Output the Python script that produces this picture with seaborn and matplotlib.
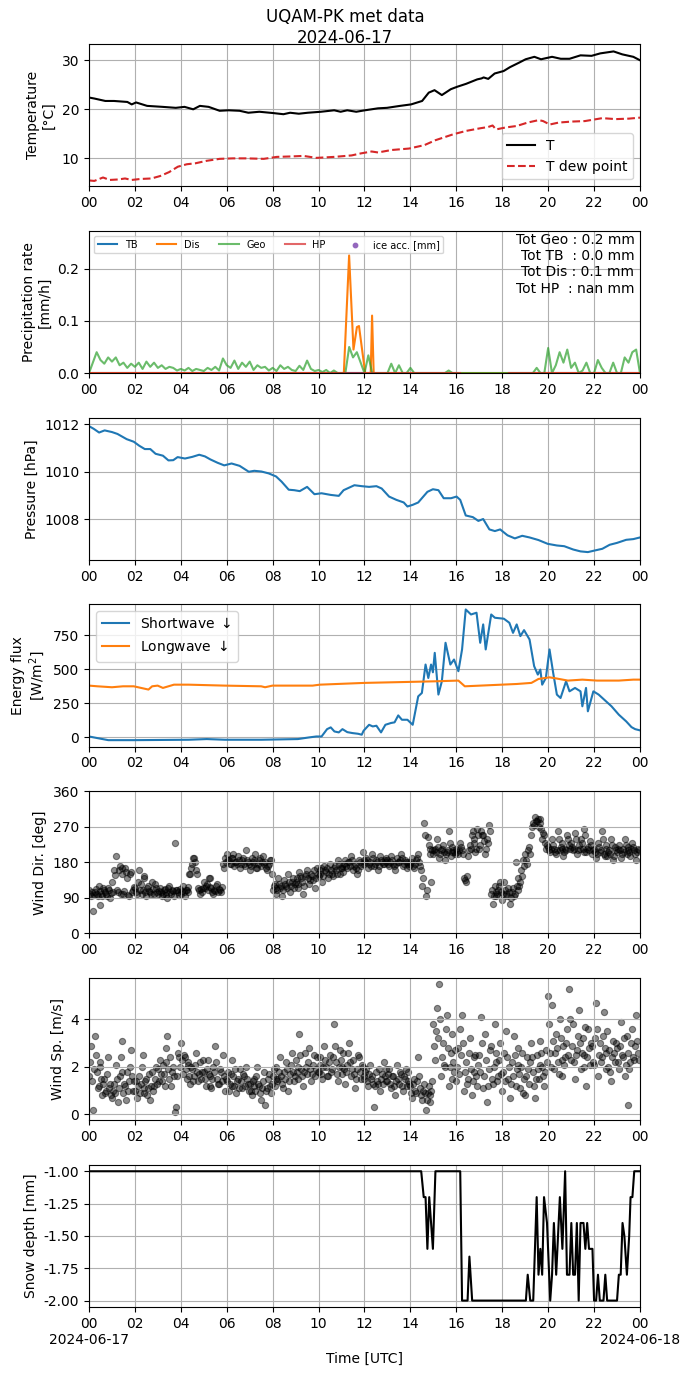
import numpy as np
import pandas as pd
import matplotlib
matplotlib.use("Agg")
import matplotlib.pyplot as plt
import seaborn as sns

# ---------------- data ----------------
hour_labels = ["00", "02", "04", "06", "08", "10", "12", "14", "16", "18", "20", "22", "00"]
date_start = "2024-06-17"
date_end = "2024-06-18"

# Temperature
t_time = [0, 0.23, 0.71, 1.09, 1.67, 1.86, 2.05, 2.53, 3.2, 3.78, 4.16, 4.54, 4.83, 5.21, 5.69,
          6.08, 6.56, 6.94, 7.42, 7.99, 8.47, 8.76, 9.14, 9.53, 10.1, 10.68, 10.96, 11.25, 11.64,
          12.02, 12.59, 12.98, 13.55, 14.03, 14.51, 14.8, 15.05, 15.37, 15.76, 16.04, 16.43, 16.91,
          17.1, 17.19, 17.39, 17.67, 18.06, 18.34, 18.73, 19.02, 19.4, 19.69, 19.88, 20.17, 20.55,
          20.93, 21.41, 21.89, 22.27, 22.85, 23.23, 23.71, 24.0]
t_air = [22.4, 22.2, 21.7, 21.7, 21.5, 21.0, 21.4, 20.7, 20.5, 20.3, 20.5, 20.0, 20.7, 20.5, 19.7,
         19.8, 19.7, 19.3, 19.5, 19.25, 19.0, 19.3, 19.1, 19.3, 19.5, 19.8, 19.5, 19.8, 19.5,
         19.8, 20.2, 20.3, 20.7, 21.0, 21.7, 23.4, 23.9, 22.9, 24.1, 24.6, 25.2, 26.1,
         26.3, 26.5, 26.2, 27.3, 27.8, 28.6, 29.5, 30.2, 30.7, 30.2, 30.4, 30.7, 30.3,
         30.3, 31.0, 30.9, 31.4, 31.8, 31.2, 30.7, 30.0]
td_time = [0, 0.23, 0.61, 0.9, 1.28, 1.57, 1.86, 2.24, 2.72, 3.1, 3.49, 3.87, 4.26, 4.64, 5.12,
           5.69, 6.27, 6.84, 7.61, 8.18, 8.86, 9.34, 9.91, 10.68, 11.44, 11.83, 12.31, 12.59,
           13.17, 13.94, 14.61, 15.09, 15.86, 16.43, 17.0, 17.39, 17.58, 17.73, 18.15, 18.63,
           19.11, 19.59, 19.78, 20.07, 20.46, 21.03, 21.6, 22.36, 22.94, 23.52, 24.0]
t_dew = [5.5, 5.4, 6.1, 5.6, 5.7, 5.9, 5.6, 5.8, 5.9, 6.4, 7.2, 8.3, 8.8, 9.0, 9.5,
         9.9, 10.0, 10.0, 9.9, 10.3, 10.4, 10.5, 10.1, 10.3, 10.6, 11.0, 11.4, 11.2,
         11.7, 12.0, 12.7, 13.7, 14.9, 15.6, 16.1, 16.4, 16.7, 15.9, 16.3, 16.6,
         17.3, 17.8, 17.6, 16.9, 17.3, 17.5, 17.6, 18.2, 18.0, 18.1, 18.3]

# Precipitation (10-minute samples for Geo)
geo_rate = [
    0.000, 0.020, 0.040, 0.025, 0.018, 0.030,
    0.022, 0.030, 0.015, 0.020, 0.010, 0.018,
    0.012, 0.020, 0.008, 0.022, 0.012, 0.020,
    0.010, 0.015, 0.008, 0.012, 0.010, 0.005,
    0.008, 0.005, 0.010, 0.004, 0.008, 0.006,
    0.004, 0.010, 0.006, 0.012, 0.005, 0.028,
    0.015, 0.010, 0.024, 0.008, 0.020, 0.012,
    0.022, 0.006, 0.015, 0.010, 0.012, 0.005,
    0.010, 0.004, 0.015, 0.008, 0.012, 0.006,
    0.004, 0.014, 0.006, 0.024, 0.008, 0.004,
    0.006, 0.002, 0.006, 0.000, 0.005, 0.000,
    0.000, 0.000, 0.050, 0.030, 0.040, 0.020,
    0.000, 0.034, 0.000, 0.000, 0.000, 0.000,
    0.000, 0.018, 0.000, 0.015, 0.000, 0.000,
    0.010, 0.000, 0.000, 0.000, 0.000, 0.000,
    0.000, 0.000, 0.000, 0.000, 0.005, 0.000,
    0.000, 0.000, 0.000, 0.000, 0.000, 0.000,
    0.000, 0.000, 0.000, 0.000, 0.000, 0.000,
    0.000, 0.000, 0.000, 0.000, 0.000, 0.000,
    0.000, 0.000, 0.000, 0.010, 0.000, 0.000,
    0.048, 0.000, 0.015, 0.040, 0.020, 0.045,
    0.010, 0.020, 0.000, 0.005, 0.020, 0.000,
    0.000, 0.025, 0.010, 0.000, 0.000, 0.020,
    0.000, 0.000, 0.030, 0.020, 0.040, 0.045,
    0.000]
geo_time = [i / 6 for i in range(len(geo_rate))]
dis_time = [0, 11.1, 11.33, 11.52, 11.67, 11.76, 12.03, 12.27, 12.33, 12.4, 24]
dis_rate = [0, 0, 0.225, 0.045, 0.088, 0.09, 0.0, 0.0, 0.11, 0.0, 0]
tb_time = [0, 24]
tb_rate = [0, 0]
hp_segments_time = [[0, 16.17], [18.3, 24]]
hp_segments_rate = [[0, 0], [0, 0]]
precip_text = ["Tot Geo : 0.2 mm", "Tot TB  : 0.0 mm", "Tot Dis : 0.1 mm", "Tot HP  : nan mm"]

# Pressure
p_time = [0, 0.2, 0.44, 0.68, 1.0, 1.24, 1.64, 1.95, 2.19, 2.43, 2.67, 2.9, 3.22, 3.46, 3.67,
          3.86, 4.18, 4.5, 4.8, 5.05, 5.29, 5.6, 5.89, 6.21, 6.56, 6.96, 7.2, 7.51, 7.83, 8.15,
          8.39, 8.7, 8.94, 9.18, 9.5, 9.82, 10.13, 10.53, 10.88, 11.09, 11.56, 11.88, 12.2,
          12.52, 12.75, 13.07, 13.39, 13.71, 13.87, 14.1, 14.34, 14.5, 14.74, 14.98, 15.22,
          15.45, 15.77, 16.01, 16.17, 16.41, 16.72, 16.96, 17.17, 17.44, 17.68, 17.91, 18.23,
          18.55, 18.87, 19.19, 19.58, 19.98, 20.38, 20.7, 21.09, 21.41, 21.73, 22.04, 22.36,
          22.68, 23.0, 23.4, 23.71, 24.0]
pressure = [1011.93, 1011.82, 1011.66, 1011.75, 1011.68, 1011.6, 1011.38, 1011.27, 1011.1,
            1010.96, 1010.96, 1010.76, 1010.68, 1010.48, 1010.49, 1010.62, 1010.56, 1010.63,
            1010.72, 1010.65, 1010.52, 1010.38, 1010.27, 1010.35, 1010.25, 1010.0, 1010.04,
            1010.01, 1009.93, 1009.8, 1009.58, 1009.24, 1009.22, 1009.18, 1009.36, 1009.05,
            1009.09, 1009.02, 1008.98, 1009.22, 1009.43, 1009.39, 1009.36, 1009.39, 1009.29,
            1008.95, 1008.81, 1008.7, 1008.53, 1008.6, 1008.7, 1008.88, 1009.15, 1009.26,
            1009.22, 1008.88, 1008.88, 1008.95, 1008.81, 1008.15, 1008.08, 1007.92, 1008.0,
            1007.56, 1007.49, 1007.56, 1007.31, 1007.18, 1007.29, 1007.22, 1007.11, 1006.95,
            1006.88, 1006.85, 1006.71, 1006.63, 1006.6, 1006.67, 1006.74, 1006.91, 1006.99,
            1007.12, 1007.15, 1007.22]

# Radiation
sw_time = [0, 0.37, 0.84, 1.95, 4.34, 5.13, 5.92, 7.5, 9.1, 9.58, 9.9, 10.13, 10.37, 10.53,
           10.69, 10.88, 11.04, 11.25, 11.48, 11.72, 11.88, 11.96, 12.2, 12.36, 12.52, 12.72,
           12.91, 13.15, 13.31, 13.47, 13.63, 13.87, 14.1, 14.34, 14.5, 14.66, 14.78, 14.9,
           14.98, 15.06, 15.22, 15.37, 15.53, 15.74, 15.9, 16.09, 16.25, 16.41, 16.64, 16.88,
           17.04, 17.17, 17.28, 17.52, 17.68, 18.07, 18.31, 18.47, 18.63, 18.79, 18.95, 19.19,
           19.39, 19.55, 19.66, 19.74, 19.9, 20.06, 20.22, 20.38, 20.54, 20.78, 20.93, 21.17,
           21.41, 21.49, 21.65, 21.73, 21.97, 22.2, 22.44, 22.76, 23.08, 23.4, 23.63, 23.79, 24.0]
shortwave = [7, -5, -20, -20, -17, -12, -17, -17, -12, 0, 7, 7, 61, 74,
             44, 37, 61, 39, 32, 27, 20, 49, 93, 81, 86, 37,
             93, 106, 111, 162, 130, 130, 93, 302, 327, 536, 437, 536,
             479, 622, 315, 413, 696, 536, 573, 487, 647, 941, 904, 917,
             696, 831, 647, 904, 880, 873, 843, 769, 831, 745, 789, 720,
             524, 462, 499, 388, 437, 647, 474, 315, 290, 413, 339, 364,
             339, 229, 364, 192, 339, 315, 278, 229, 167, 118, 76, 61, 52]
lw_time = [0, 0.37, 1.0, 1.48, 1.95, 2.27, 2.59, 2.75, 2.99, 3.22, 3.7, 4.34, 5.92, 7.5, 7.67,
           7.99, 9.74, 10.05, 12.0, 13.87, 15.14, 16.09, 16.37, 17.04, 18.63, 19.27, 19.58,
           20.06, 20.38, 20.86, 21.49, 22.13, 23.08, 23.71, 24.0]
longwave = [381, 376, 369, 376, 376, 364, 352, 376, 381, 364, 388, 388, 381, 376, 369,
            381, 381, 388, 401, 408, 413, 418, 376, 381, 393, 401, 430,
            442, 433, 418, 425, 418, 418, 425, 425]

# Wind, one row per hour (2.5-minute samples)
wind_dir_rows = [
    [110, 100, 95, 105, 58, 98, 105, 112, 100, 95, 120, 108, 72, 100, 95, 115, 110, 105, 100, 96, 115, 110, 90, 102],
    [130, 105, 160, 148, 195, 110, 105, 160, 170, 100, 150, 165, 100, 108, 165, 155, 140, 98, 95, 150, 155, 105, 110, 118],
    [115, 105, 100, 130, 160, 110, 125, 100, 110, 145, 140, 105, 95, 115, 120, 108, 105, 100, 130, 112, 100, 125, 115, 105],
    [100, 108, 115, 105, 95, 100, 110, 112, 105, 98, 90, 115, 120, 105, 100, 110, 108, 95, 228, 110, 110, 105, 98, 112],
    [100, 108, 120, 105, 95, 110, 110, 118, 105, 150, 150, 165, 175, 190, 190, 180, 160, 150, 115, 110, 100, 112, 105, 115],
    [130, 115, 120, 125, 110, 140, 140, 118, 115, 105, 100, 110, 108, 120, 125, 105, 112, 110, 105, 118, 175, 165, 190, 180],
    [200, 185, 185, 175, 175, 190, 190, 200, 170, 180, 180, 175, 195, 185, 165, 175, 185, 190, 175, 170, 210, 185, 180, 175],
    [160, 170, 190, 180, 175, 185, 200, 165, 165, 175, 185, 190, 170, 180, 195, 175, 180, 165, 160, 170, 175, 185, 185, 150],
    [110, 120, 125, 115, 100, 110, 140, 125, 115, 120, 95, 110, 135, 125, 120, 115, 150, 130, 105, 120, 130, 140, 115, 125],
    [130, 140, 115, 125, 155, 145, 140, 130, 100, 120, 145, 150, 160, 140, 125, 135, 150, 145, 135, 160, 115, 140, 165, 150],
    [145, 150, 160, 165, 130, 145, 170, 160, 155, 165, 140, 150, 175, 160, 150, 145, 165, 170, 160, 150, 185, 175, 150, 165],
    [170, 165, 155, 175, 185, 170, 165, 180, 180, 170, 195, 185, 160, 170, 175, 165, 150, 160, 185, 180, 170, 175, 205, 185],
    [175, 180, 190, 185, 165, 175, 180, 170, 200, 190, 170, 175, 185, 180, 160, 170, 195, 185, 180, 175, 175, 185, 190, 180],
    [185, 175, 170, 180, 195, 185, 175, 170, 160, 175, 190, 180, 180, 185, 200, 190, 170, 175, 185, 180, 165, 175, 180, 170],
    [175, 180, 190, 170, 165, 175, 185, 190, 200, 180, 170, 160, 120, 140, 280, 250, 95, 110, 245, 225, 215, 200, 130, 210],
    [200, 210, 215, 205, 240, 220, 190, 200, 210, 215, 225, 205, 185, 200, 205, 210, 260, 230, 195, 205, 220, 210, 205, 200],
    [215, 205, 200, 210, 230, 220, 210, 200, 140, 135, 130, 145, 195, 210, 225, 215, 250, 260, 240, 230, 205, 215, 265, 250],
    [215, 225, 260, 250, 250, 235, 200, 215, 240, 230, 275, 260, 100, 110, 75, 95, 120, 105, 95, 100, 110, 120, 130, 105],
    [85, 100, 130, 110, 100, 95, 115, 105, 75, 90, 105, 115, 95, 100, 180, 120, 140, 110, 120, 130, 160, 145, 185, 170],
    [200, 185, 175, 210, 220, 200, 250, 270, 280, 275, 295, 285, 285, 290, 270, 280, 290, 265, 240, 255, 250, 230, 215, 225],
    [220, 210, 205, 215, 240, 225, 215, 205, 200, 210, 260, 240, 210, 220, 230, 215, 195, 205, 215, 210, 250, 240, 225, 215],
    [230, 220, 210, 215, 255, 240, 200, 210, 225, 215, 240, 230, 215, 205, 265, 250, 205, 215, 220, 210, 235, 225, 200, 210],
    [215, 205, 190, 200, 230, 220, 205, 210, 260, 240, 200, 195, 225, 215, 195, 205, 210, 200, 240, 225, 185, 195, 220, 210],
    [205, 215, 225, 210, 190, 200, 215, 205, 240, 225, 200, 210, 220, 205, 195, 215, 230, 220, 210, 200, 185, 205, 215, 210],
]
wind_speed_rows = [
    [1.6, 2.2, 2.9, 1.4, 0.2, 1.9, 3.3, 2.5, 1.8, 1.1, 1.2, 2.0, 2.2, 1.5, 0.8, 1.3, 1.5, 0.9, 1.0, 1.7, 2.4, 1.1, 1.3, 0.8],
    [0.7, 1.0, 1.3, 0.9, 2.1, 1.5, 0.5, 1.1, 1.6, 2.4, 3.1, 1.8, 0.9, 1.3, 1.2, 0.6, 1.8, 1.0, 1.4, 2.0, 2.7, 1.6, 1.0, 1.4],
    [1.0, 1.4, 0.7, 1.2, 1.6, 0.9, 1.3, 2.0, 2.5, 1.1, 0.9, 1.4, 1.5, 0.8, 1.1, 1.7, 0.6, 1.2, 1.8, 1.0, 1.2, 1.5, 2.0, 1.3],
    [1.9, 1.4, 2.3, 1.7, 1.4, 2.1, 1.7, 1.2, 2.8, 2.2, 3.3, 1.9, 1.5, 2.4, 1.2, 1.8, 2.0, 1.6, 0.1, 0.3, 1.6, 2.6, 2.4, 2.0],
    [3.0, 2.3, 1.7, 2.5, 2.4, 1.9, 1.5, 2.2, 2.1, 1.6, 1.3, 2.0, 1.9, 1.4, 1.6, 2.1, 2.6, 1.8, 1.4, 1.7, 2.2, 1.5, 1.8, 2.3],
    [1.8, 1.5, 1.2, 1.9, 2.3, 1.7, 1.6, 1.2, 1.1, 1.5, 2.0, 1.8, 2.9, 2.2, 1.5, 1.3, 1.3, 1.9, 1.8, 1.4, 2.5, 1.6, 1.0, 1.5],
    [1.4, 1.8, 1.0, 1.3, 1.7, 1.2, 2.3, 1.6, 1.2, 1.9, 0.9, 1.4, 1.5, 1.1, 1.9, 1.4, 1.1, 1.7, 1.6, 1.2, 2.0, 1.5, 1.3, 1.0],
    [1.3, 1.0, 0.8, 1.4, 1.5, 1.2, 1.0, 1.6, 2.0, 1.3, 1.2, 0.9, 0.6, 1.1, 1.4, 1.8, 0.4, 1.0, 1.1, 1.5, 1.7, 1.2, 0.9, 1.3],
    [1.6, 1.9, 1.2, 1.5, 2.0, 1.4, 1.5, 1.8, 2.4, 1.6, 1.3, 1.1, 1.8, 1.5, 2.2, 1.9, 1.0, 1.4, 1.7, 2.1, 2.6, 1.8, 1.4, 1.6],
    [2.3, 1.8, 1.5, 2.0, 3.4, 2.5, 1.9, 1.6, 1.2, 1.8, 2.6, 2.0, 1.7, 2.2, 2.8, 1.9, 1.4, 1.7, 2.1, 2.5, 1.6, 1.9, 2.4, 1.8],
    [1.8, 2.1, 2.4, 1.7, 1.5, 2.0, 2.9, 2.3, 2.0, 1.6, 1.6, 2.2, 2.5, 1.8, 1.9, 2.4, 3.8, 2.9, 2.2, 1.7, 1.4, 2.0, 2.7, 2.3],
    [1.7, 2.0, 2.6, 1.9, 1.3, 1.8, 2.1, 2.6, 3.0, 2.2, 1.6, 1.9, 2.3, 1.7, 1.1, 1.5, 1.9, 2.5, 2.4, 1.8, 1.5, 2.1, 2.0, 1.6],
    [1.5, 1.8, 1.9, 1.4, 1.2, 1.7, 2.1, 1.5, 1.6, 1.3, 0.3, 1.2, 1.8, 1.4, 1.3, 1.9, 1.0, 1.5, 1.7, 1.3, 2.2, 1.6, 1.4, 1.9],
    [1.4, 1.7, 1.9, 1.3, 1.1, 1.6, 1.6, 1.2, 0.8, 1.4, 2.1, 1.5, 1.3, 1.8, 1.7, 1.2, 1.0, 1.6, 1.5, 1.9, 1.2, 1.4, 1.8, 1.3],
    [1.2, 0.9, 0.7, 1.3, 1.5, 1.0, 0.9, 1.4, 2.4, 1.6, 1.1, 0.8, 0.6, 1.0, 1.3, 0.9, 0.2, 0.6, 0.9, 1.2, 0.5, 0.8, 1.0, 1.4],
    [3.8, 2.9, 2.3, 3.5, 4.5, 3.2, 5.5, 4.0, 1.6, 2.4, 3.0, 2.1, 2.0, 3.6, 4.2, 2.8, 1.2, 2.0, 2.6, 1.5, 3.4, 2.2, 1.8, 2.7],
    [1.4, 2.0, 2.8, 1.7, 3.6, 2.5, 4.2, 3.0, 1.0, 1.8, 2.2, 1.3, 1.5, 2.6, 3.2, 1.9, 0.8, 1.4, 1.8, 2.4, 2.5, 1.6, 1.2, 2.1],
    [2.5, 1.8, 4.1, 3.0, 1.1, 1.6, 3.4, 2.3, 0.5, 1.2, 1.9, 2.7, 2.9, 1.5, 1.3, 2.0, 3.8, 2.6, 2.2, 1.4, 1.6, 2.3, 3.0, 1.7],
    [1.0, 1.8, 2.6, 1.4, 3.5, 2.4, 1.5, 2.0, 0.7, 1.3, 2.2, 1.6, 3.3, 2.5, 1.2, 1.9, 2.8, 2.1, 1.7, 1.1, 2.0, 2.6, 0.9, 1.5],
    [0.8, 1.6, 2.4, 1.9, 1.3, 2.2, 3.0, 2.4, 1.8, 1.2, 0.7, 1.5, 2.5, 1.9, 1.5, 2.1, 3.1, 2.6, 2.0, 1.6, 1.2, 1.8, 2.7, 2.2],
    [5.0, 3.8, 2.6, 2.0, 4.6, 3.1, 1.9, 2.6, 3.4, 2.8, 2.2, 1.7, 4.0, 3.2, 1.6, 2.3, 2.9, 2.1, 2.4, 3.0, 3.6, 2.5, 5.3, 4.0],
    [2.3, 2.9, 3.8, 2.2, 1.5, 2.5, 2.7, 3.3, 4.4, 3.0, 1.9, 2.6, 3.2, 2.0, 2.5, 3.7, 1.2, 2.4, 3.6, 2.8, 2.1, 3.0, 2.9, 2.2],
    [2.1, 3.2, 4.7, 3.6, 1.6, 2.5, 3.0, 2.2, 2.4, 3.3, 4.3, 2.8, 1.9, 2.6, 3.5, 2.0, 2.7, 1.8, 1.4, 2.4, 3.1, 2.6, 2.2, 3.0],
    [2.8, 2.2, 1.9, 2.9, 3.9, 2.5, 2.4, 3.2, 1.6, 2.1, 3.3, 2.6, 0.4, 1.9, 2.2, 3.0, 3.6, 2.4, 2.3, 2.9, 4.2, 3.1, 2.6, 2.3],
]

# Snow depth
snow_time = [0, 14.47, 14.58, 14.66, 14.74, 14.82, 14.98, 15.09, 16.17, 16.25, 16.49, 16.57,
             16.69, 19.03, 19.11, 19.22, 19.35, 19.5, 19.58, 19.66, 19.74, 19.82, 19.95, 20.09,
             20.17, 20.25, 20.35, 20.51, 20.62, 20.74, 20.82, 20.93, 21.01, 21.09, 21.17, 21.25,
             21.33, 21.41, 21.54, 21.62, 21.7, 21.78, 21.93, 22.0, 22.09, 22.17, 22.25, 22.41,
             22.49, 22.57, 23.0, 23.08, 23.16, 23.24, 23.32, 23.43, 23.53, 23.59, 23.67, 23.75, 24.0]
snow_depth = [-1.0, -1.0, -1.2, -1.2, -1.6, -1.2, -1.6, -1.0, -1.0, -2.0, -2.0, -1.66,
              -2.0, -2.0, -1.8, -2.0, -2.0, -1.2, -1.8, -1.6, -1.8, -1.2, -1.4, -2.0,
              -1.8, -1.4, -1.8, -1.2, -1.6, -1.0, -1.8, -1.8, -1.4, -1.8, -1.8, -1.4,
              -2.0, -1.4, -1.4, -1.6, -1.4, -1.6, -1.6, -2.0, -2.0, -1.8, -2.0, -2.0,
              -1.8, -2.0, -2.0, -1.8, -1.8, -1.4, -1.5, -1.8, -1.5, -1.2, -1.2, -1.0, -1.0]

# wind sample times built from the hourly rows
def rows_to_series(rows):
    times, vals = [], []
    for h, row in enumerate(rows):
        n = len(row)
        for k, v in enumerate(row):
            times.append(h + k / n)
            vals.append(v)
    return times, vals

wd_time, wind_dir = rows_to_series(wind_dir_rows)
ws_time, wind_speed = rows_to_series(wind_speed_rows)

# ---------------- figure ----------------
fig, axes = plt.subplots(7, 1, figsize=(6.9, 13.77), dpi=100)
fig.subplots_adjust(left=0.129, right=0.9275, top=0.968, bottom=0.0508, hspace=0.313)
fig.suptitle("UQAM-PK met data\n" + date_start, fontsize=12, y=0.994)

# 1 Temperature
ax = axes[0]
sns.lineplot(x=t_time, y=t_air, color="black", lw=1.5, label="T", ax=ax)
sns.lineplot(x=td_time, y=t_dew, color="tab:red", lw=1.5, linestyle="--", label="T dew point", ax=ax)
ax.set_ylim(4.3, 33.3)
ax.set_yticks([10, 20, 30])
ax.set_ylabel("Temperature\n[°C]")
ax.legend(loc="lower right", fontsize=10)

# 2 Precipitation
ax = axes[1]
sns.lineplot(x=tb_time, y=tb_rate, color="tab:blue", lw=1.5, label="TB", ax=ax)
sns.lineplot(x=dis_time, y=dis_rate, color="tab:orange", lw=1.5, label="Dis", ax=ax)
sns.lineplot(x=geo_time, y=geo_rate, color="tab:green", alpha=0.7, lw=1.5, label="Geo", ax=ax)
for i, (ht, hr) in enumerate(zip(hp_segments_time, hp_segments_rate)):
    sns.lineplot(x=ht, y=hr, color="tab:red", alpha=0.7, lw=1.5,
                 label="HP" if i == 0 else None, legend=(i == 0), ax=ax)
ax.scatter([], [], s=10, color="tab:purple", label="ice acc. [mm]")
ax.set_ylim(0, 0.272)
ax.set_yticks([0.0, 0.1, 0.2])
ax.set_yticklabels(["0.0", "0.1", "0.2"])
ax.set_ylabel("Precipitation rate\n[mm/h]")
ax.legend(loc="upper left", ncol=5, fontsize=7)
ax.text(0.99, 0.985, "\n".join(precip_text), transform=ax.transAxes,
        ha="right", va="top", fontsize=10)

# 3 Pressure
ax = axes[2]
sns.lineplot(x=p_time, y=pressure, color="tab:blue", lw=1.5, ax=ax)
ax.set_ylim(1006.27, 1012.29)
ax.set_yticks([1008, 1010, 1012])
ax.set_ylabel("Pressure [hPa]")

# 4 Energy flux
ax = axes[3]
sns.lineplot(x=sw_time, y=shortwave, color="tab:blue", lw=1.5, label="Shortwave $\\downarrow$", ax=ax)
sns.lineplot(x=lw_time, y=longwave, color="tab:orange", lw=1.5, label="Longwave $\\downarrow$", ax=ax)
ax.set_ylim(-68, 978)
ax.set_yticks([0, 250, 500, 750])
ax.set_ylabel("Energy flux\n[W/m$^2$]")
ax.legend(loc="upper left", fontsize=10)

# 5 Wind direction
ax = axes[4]
sns.scatterplot(x=wd_time, y=wind_dir, color="black", alpha=0.45, s=20,
                edgecolor="black", linewidth=0.8, ax=ax)
ax.set_ylim(0, 360)
ax.set_yticks([0, 90, 180, 270, 360])
ax.set_ylabel("Wind Dir. [deg]")

# 6 Wind speed
ax = axes[5]
sns.scatterplot(x=ws_time, y=wind_speed, color="black", alpha=0.45, s=20,
                edgecolor="black", linewidth=0.8, ax=ax)
ax.set_ylim(-0.25, 5.75)
ax.set_yticks([0, 2, 4])
ax.set_ylabel("Wind Sp. [m/s]")

# 7 Snow depth
ax = axes[6]
sns.lineplot(x=snow_time, y=snow_depth, color="black", lw=1.5, ax=ax)
ax.set_ylim(-2.05, -0.95)
ax.set_yticks([-1.0, -1.25, -1.5, -1.75, -2.0])
ax.set_yticklabels(["-1.00", "-1.25", "-1.50", "-1.75", "-2.00"])
ax.set_ylabel("Snow depth [mm]")

for i, ax in enumerate(axes):
    ax.set_xlim(0, 24)
    ax.set_xticks(list(range(0, 25, 2)))
    ax.set_xticklabels(hour_labels)
    ax.set_xlabel("")
    ax.grid(True, which="major", color="#b0b0b0", linewidth=0.8)

# date labels on a second line under the first and last hour ticks
ax = axes[-1]
ax.xaxis.remove_overlapping_locs = False
ax.set_xticks([0, 24], minor=True)
ax.set_xticklabels([date_start, date_end], minor=True)
ax.tick_params(axis="x", which="minor", length=0, pad=18.5)
ax.set_xlabel("Time [UTC]")

fig.savefig("out.png", dpi=100)
